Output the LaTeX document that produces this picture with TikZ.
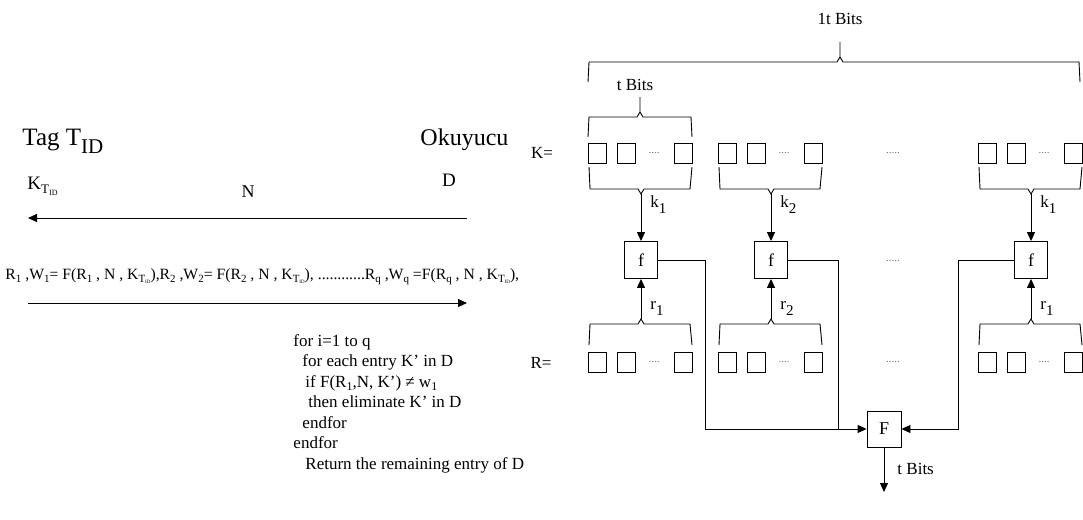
\documentclass[tikz,border=0pt]{standalone}
\usepackage{fontspec}
\setmainfont{Liberation Serif}
\usetikzlibrary{arrows.meta}
\newcommand{\fsz}[1]{\fontsize{#1}{#1}\selectfont}
\newcommand{\dn}[2][11]{\raisebox{-3pt}{\fontsize{#1}{#1}\selectfont #2}}
\newcommand{\Kt}{K\dn{T\raisebox{-1.5pt}{\fsz{5}ID}}}
\newcommand{\pr}{{\char"27}}

\begin{document}
\begin{tikzpicture}[x=1pt,y=-1pt,line width=0.9pt,
  every node/.style={inner sep=0pt},
  bit/.style={draw, minimum width=18pt, minimum height=20pt},
  fun/.style={draw, minimum width=33pt, minimum height=37pt, font=\fsz{18}},
  txt/.style={font=\fsz{17}},
  fdots/.style={text=black!55, font=\fsz{11}},
  tip/.style={-{Triangle[length=9pt,width=8pt]}}]

\useasboundingbox (0,0) rectangle (1083,519);

% Tag and reader
\node[anchor=base west, font=\fsz{25}] (tag) at (22,145) {Tag T\raisebox{-8pt}{\fsz{21}ID}};
\node[anchor=base west, font=\fsz{24}] (reader) at (420,145) {Okuyucu};
\node[anchor=base west, font=\fsz{19}] (tagkey) at (27,189) {K\raisebox{-4pt}{\fsz{13}T\raisebox{-2pt}{\fsz{8}ID}}};
\node[font=\fsz{19}] (db) at (449,180) {D};
\node[font=\fsz{18}] (nonce) at (248,192) {N};

% N goes to the tag
\coordinate (nR) at (467,218);
\coordinate (nL) at (28,218);
\draw[tip] (nR) -- (nL);

% answers go back to the reader
\node[anchor=base west, font=\fsz{15.7}] (msg) at (5,279)
  {R\dn{1} ,W\dn{1}= F(R\dn{1} , N , \Kt),R\dn{2} ,W\dn{2}= F(R\dn{2} , N , \Kt), ............R\dn{q} ,W\dn{q} =F(R\dn{q} , N , \Kt),};
\coordinate (mL) at (28,303);
\coordinate (mR) at (467,303);
\draw[tip] (mL) -- (mR);

% search in D
\node[anchor=north west, align=left, font=\fontsize{17}{20.5}\selectfont] (alg) at (293,334)
  {for i=1 to q\\
   \hspace*{9pt}for each entry K\pr{} in D\\
   \hspace*{12pt}if F(R\dn[12]{1},N, K\pr) ≠ w\dn[12]{1}\\
   \hspace*{15pt}then eliminate K\pr{} in D\\
   \hspace*{9pt}endfor\\
   endfor\\
   \hspace*{12pt}Return the remaining entry of D};

% K and R rows
\node[txt] (klbl) at (542,153) {K=};
\node[txt] (rlbl) at (541,363) {R=};

\foreach \g/\L/\i in {1/588/1, 2/718/2, 3/978/1} {
  \foreach \row/\y in {k/153, r/362} {
    \node[bit] (\row\g a) at (\L+9,\y) {};
    \node[bit] (\row\g b) at (\L+38,\y) {};
    \node[fdots] (\row\g d) at (\L+66,\y) {....};
    \node[bit] (\row\g c) at (\L+95,\y) {};
  }
  % brace under the key part
  \draw (\L+1,167) -- (\L+2,189) -- (\L+50,189) -- (\L+53,194) -- (\L+56,189) -- (\L+102,189) -- (\L+104,167);
  \coordinate (kt\g) at (\L+53,194);
  % brace over the random part
  \draw (\L+1,345) -- (\L+2,324) -- (\L+50,324) -- (\L+53,319) -- (\L+56,324) -- (\L+102,324) -- (\L+104,345);
  \coordinate (rt\g) at (\L+53,319);
  \node[fun] (f\g) at (\L+53,260) {f};
  \draw[tip] (kt\g) -- (f\g.north);
  \draw[tip] (rt\g) -- (f\g.south);
  \node[txt, anchor=west] (klab\g) at (\L+62,205) {k\raisebox{-6pt}{\fsz{15}\i}};
  \node[txt, anchor=west] (rlab\g) at (\L+62,308) {r\raisebox{-6pt}{\fsz{15}\i}};
}

\foreach \y in {153,261,362}
  \node[fdots] (mid\y) at (893,\y) {.....};

% bit counts
\draw (588,137) -- (589,117) -- (637,117) -- (640,112) -- (640,97) -- (640,112) -- (643,117) -- (691,117) -- (692,137);
\node[txt] (sbits) at (635,85) {t Bits};
\draw (588,82) -- (589,62) -- (837,62) -- (840,57) -- (840,42) -- (840,57) -- (843,62) -- (1079,62) -- (1080,82);
\node[txt] (lbits) at (840,19) {1t Bits};

% combine
\node[fun, minimum width=34pt, minimum height=36pt] (F) at (884,429) {F};
\coordinate (j1) at (705,429);
\coordinate (j2) at (838,429);
\coordinate (j3) at (958,429);
\draw[tip] (f1.east) -| (j1) -- (F.west);
\draw (f2.east) -| (j2);
\draw[tip] (f3.west) -| (j3) -- (F.east);
\coordinate (out) at (884,492);
\draw[tip] (F.south) -- (out);
\node[txt, anchor=west] (obits) at (897,469) {t Bits};

\end{tikzpicture}
\end{document}
